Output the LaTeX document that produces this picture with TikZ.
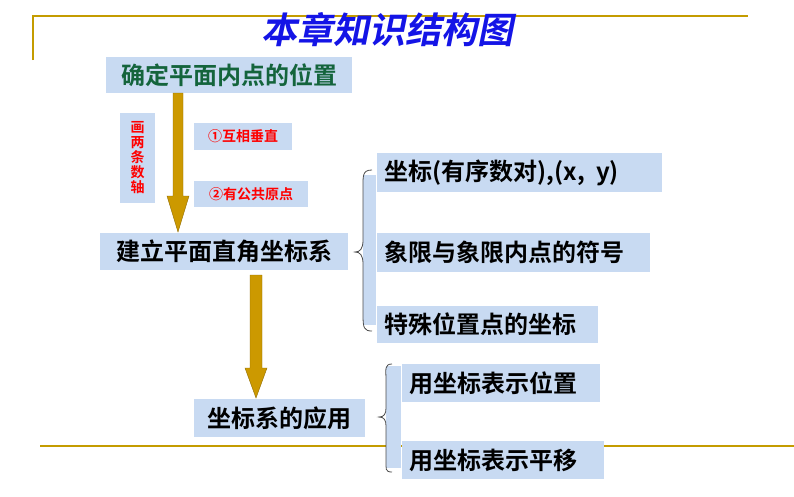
\documentclass[tikz,border=0pt]{standalone}
\usepackage{fontspec}
\setmainfont{Noto Sans CJK SC}
\newfontfamily\cjkb{Noto Sans CJK SC Bold}
\usetikzlibrary{arrows.meta}
\definecolor{boxblue}{RGB}{200,218,242}
\definecolor{gold}{RGB}{196,156,0}
\definecolor{arrowgold}{RGB}{204,153,0}
\definecolor{titleblue}{RGB}{20,20,230}
\definecolor{dkgreen}{RGB}{20,100,60}
\tikzset{
  bigtxt/.style={font=\cjkb\fontsize{24}{26}\selectfont},
  redtxt/.style={font=\cjkb\fontsize{14}{15}\selectfont,text=red},
  fatarrow/.style={fill=arrowgold,draw=arrowgold!70!black,line width=0.4pt},
  goldline/.style={draw=gold,line width=1.5pt},
  brace/.style={draw=black!70,line width=0.8pt}
}
\newcommand{\abox}[6]{% name, x1, y1, x2, y2, style
  \fill[boxblue] (#2,#3) rectangle (#4,#5);
  \node[#6] (#1) at ({(#2+#4)/2},{(#3+#5)/2})}
\newcommand{\lbox}[6]{% left-aligned
  \fill[boxblue] (#2,#3) rectangle (#4,#5);
  \node[#6,anchor=west] (#1) at ({#2+4},{(#3+#5)/2})}
\begin{document}
\begin{tikzpicture}[x=1pt,y=-1pt]
\useasboundingbox (0,0) rectangle (794,496);
\draw[goldline] (33,60) -- (33,16) -- (748,16);
\draw[goldline] (40,446) -- (794,446);
\node[font=\cjkb\fontsize{36}{38}\selectfont,text=titleblue,xslant=0.2] (title) at (390,30) {本章知识结构图};
\abox{b1}{106}{57}{352}{93}{bigtxt,text=dkgreen}{确定平面内点的位置};
\abox{red}{120}{113}{155}{203}{redtxt,align=center}{画\\两\\条\\数\\轴};
\abox{c1}{194}{123}{292}{150}{redtxt}{①互相垂直};
\abox{c2}{194}{181}{308}{207}{redtxt}{②有公共原点};
\abox{b2}{100}{233}{348}{270}{bigtxt}{建立平面直角坐标系};
\lbox{r1}{377}{153}{662}{192}{bigtxt}{坐标(有序数对),(x,\ \ y)};
\lbox{r2}{377}{233}{650}{272}{bigtxt}{象限与象限内点的符号};
\lbox{r3}{377}{306}{598}{343}{bigtxt}{特殊位置点的坐标};
\abox{b3}{194}{399}{365}{437}{bigtxt}{坐标系的应用};
\lbox{s1}{402}{364}{600}{402}{bigtxt}{用坐标表示位置};
\lbox{s2}{402}{441}{604}{479}{bigtxt}{用坐标表示平移};
\fill[boxblue] (363,175) rectangle (376,325);
\fill[boxblue] (386,366) rectangle (401,468);
\draw[brace] (372,170) .. controls (362,170) and (363,176) .. (363,190) -- (363,240) .. controls (363,249) and (360,252) .. (355,252)
  .. controls (360,252) and (363,255) .. (363,264) -- (363,315) .. controls (363,328) and (364,331) .. (372,331);
\draw[brace] (392,364) .. controls (384,364) and (386,370) .. (386,380) -- (386,408) .. controls (386,414) and (384,417) .. (379,417)
  .. controls (384,417) and (386,420) .. (386,426) -- (386,460) .. controls (386,469) and (385,472) .. (392,472);
\draw[fatarrow] (173,93) -- (183,93) -- (183,196) -- (189,196) -- (178,232) -- (167,196) -- (173,196) -- cycle;
\draw[fatarrow] (250,275) -- (262,275) -- (262,368) -- (267,368) -- (256,398) -- (245,368) -- (250,368) -- cycle;
\end{tikzpicture}
\end{document}
